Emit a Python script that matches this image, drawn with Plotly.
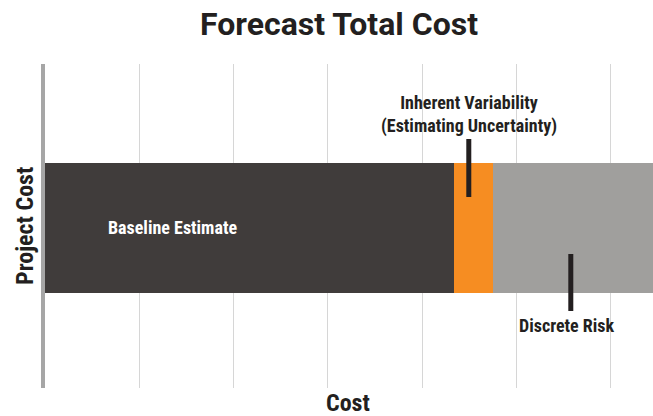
import plotly.graph_objects as go

# ---- data ----
category = ["Project Cost"]
segments = ["Baseline Estimate", "Inherent Variability", "Discrete Risk"]
values = [4.34, 0.41, 1.80]
colors = ["#403c3b", "#f68d22", "#a09f9d"]
x_max = 6.45

COND = "Liberation Sans Narrow, Roboto Condensed, Roboto, sans-serif"
TEXT = "#231f20"

fig = go.Figure()
for name, v, c in zip(segments, values, colors):
    fig.add_trace(go.Bar(
        y=[0], x=[v], name=name, orientation="h",
        marker=dict(color=c, line=dict(width=0)), width=0.4,
        hoverinfo="name+x",
    ))

base, var, risk = values
x_var_line = base + var * 0.38
x_risk_line = base + var + risk * 0.46

fig.update_layout(
    width=653, height=416,
    barmode="stack", showlegend=False, bargap=0,
    plot_bgcolor="white", paper_bgcolor="white",
    margin=dict(l=45, r=0, t=64, b=28),
    xaxis=dict(range=[0, x_max], dtick=1, tick0=0, showgrid=True,
               gridcolor="#d6d6d6", gridwidth=1.2, showticklabels=False,
               zeroline=False, showline=False, ticks=""),
    yaxis=dict(range=[-0.494, 0.506], showgrid=False, showticklabels=False,
               zeroline=False, showline=True, linecolor="#a6a6a6",
               linewidth=4, ticks=""),
    shapes=[
        dict(type="line", xref="x", yref="paper", x0=x_var_line, x1=x_var_line,
             y0=0.5895, y1=0.7685, line=dict(color=TEXT, width=5)),
        dict(type="line", xref="x", yref="paper", x0=x_risk_line, x1=x_risk_line,
             y0=0.2377, y1=0.4136, line=dict(color=TEXT, width=5)),
    ],
    annotations=[
        dict(text="<b>Forecast Total Cost</b>", xref="paper", yref="paper",
             x=0.4836, y=1.1235, showarrow=False, xanchor="center", yanchor="middle",
             font=dict(family="Roboto, sans-serif", size=32, color=TEXT)),
        dict(text="<b>Project Cost</b>", xref="paper", yref="paper",
             x=-0.033, y=0.5, showarrow=False, textangle=-90,
             xanchor="center", yanchor="middle",
             font=dict(family=COND, size=24, color=TEXT)),
        dict(text="<b>Cost</b>", xref="paper", yref="paper",
             x=0.498, y=-0.045, showarrow=False, xanchor="center", yanchor="middle",
             font=dict(family=COND, size=24, color=TEXT)),
        dict(text="<b>Baseline Estimate</b>", xref="x", yref="y",
             x=1.35, y=0, showarrow=False, xanchor="center", yanchor="middle",
             font=dict(family=COND, size=18, color="white")),
        dict(text="<b>Inherent Variability<br>(Estimating Uncertainty)</b>",
             xref="x", yref="paper", x=x_var_line, y=0.843, showarrow=False,
             xanchor="center", yanchor="middle",
             font=dict(family=COND, size=18, color=TEXT)),
        dict(text="<b>Discrete Risk</b>", xref="x", yref="paper",
             x=base + var + risk * 0.44, y=0.194, showarrow=False,
             xanchor="center", yanchor="middle",
             font=dict(family=COND, size=18, color=TEXT)),
    ],
)

fig.write_html("out.html", config={"displayModeBar": False},
               post_script="document.body.style.margin='0';document.body.style.overflow='hidden';")
